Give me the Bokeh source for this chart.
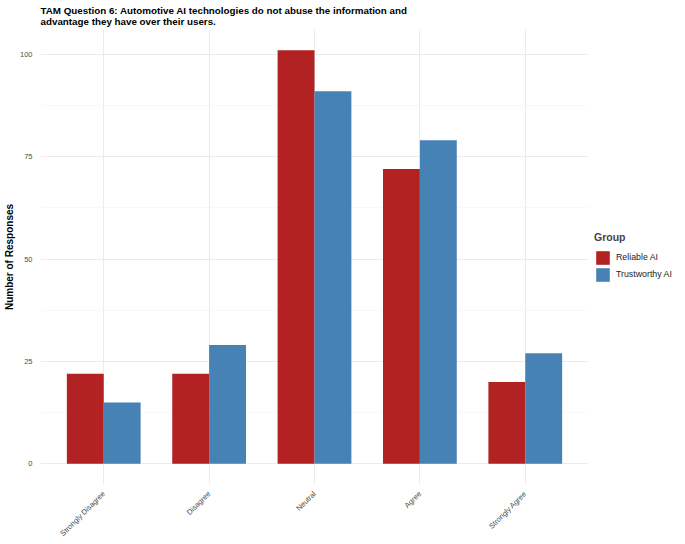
import numpy as np
from bokeh.plotting import figure
from bokeh.models import (Range1d, FixedTicker, SingleIntervalTicker, Legend,
                          LegendItem, ColumnDataSource)
from bokeh.transform import dodge
from bokeh.embed import file_html
from bokeh.resources import INLINE

categories = ["Strongly Disagree", "Disagree", "Neutral", "Agree", "Strongly Agree"]
reliable_ai = [22, 22, 101, 72, 20]
trustworthy_ai = [15, 29, 91, 79, 27]
groups = ["Reliable AI", "Trustworthy AI"]
colors = ["#B22222", "#4682B4"]
title_text = ("TAM Question 6: Automotive AI technologies do not abuse the information and\n"
              "advantage they have over their users.")

positions = list(range(1, len(categories) + 1))
src = ColumnDataSource(dict(pos=positions, reliable=reliable_ai, trust=trustworthy_ai))

ymax = max(max(reliable_ai), max(trustworthy_ai))
FONT = "Liberation Sans"

p = figure(frame_width=548, frame_height=455, output_backend="svg", toolbar_location=None,
           x_range=Range1d(0.4, len(categories) + 0.6),
           y_range=Range1d(-0.05 * ymax, 1.05 * ymax),
           background_fill_color="white", border_fill_color="white",
           min_border_left=0, min_border_right=0, min_border_top=0, min_border_bottom=0)
p.outline_line_color = None

bw = 0.35
r1 = p.vbar(x=dodge("pos", -bw / 2, range=p.x_range), top="reliable", width=bw,
            source=src, fill_color=colors[0], line_color=None)
r2 = p.vbar(x=dodge("pos", bw / 2, range=p.x_range), top="trust", width=bw,
            source=src, fill_color=colors[1], line_color=None)

# title
p.title.text = title_text
p.title.text_font = FONT
p.title.text_font_size = "9.8px"
p.title.text_font_style = "bold"
p.title.text_color = "black"
p.title.offset = 0
p.title.standoff = 5

# x axis
p.xaxis.ticker = FixedTicker(ticks=positions)
p.xaxis.major_label_overrides = {pos: c for pos, c in zip(positions, categories)}
p.xaxis.major_label_orientation = np.pi / 4
p.xaxis.major_label_text_font = FONT
p.xaxis.major_label_text_font_size = "7.5px"
p.xaxis.major_label_text_color = "#4D4D4D"
p.xaxis.axis_line_color = None
p.xaxis.major_tick_line_color = None
p.xaxis.minor_tick_line_color = None
p.xaxis.major_label_standoff = 2

# y axis
p.yaxis.ticker = SingleIntervalTicker(interval=25, num_minor_ticks=2)
p.yaxis.axis_label = "Number of Responses"
p.yaxis.axis_label_text_font = FONT
p.yaxis.axis_label_text_font_size = "10px"
p.yaxis.axis_label_text_font_style = "bold"
p.yaxis.axis_label_text_color = "black"
p.yaxis.axis_label_standoff = 2
p.yaxis.major_label_text_font = FONT
p.yaxis.major_label_text_font_size = "7.5px"
p.yaxis.major_label_text_color = "#4D4D4D"
p.yaxis.axis_line_color = None
p.yaxis.major_tick_line_color = None
p.yaxis.minor_tick_line_color = None
p.yaxis.major_label_standoff = 2

# grid
p.xgrid.grid_line_color = "#EBEBEB"
p.xgrid.grid_line_width = 1
p.ygrid.grid_line_color = "#EBEBEB"
p.ygrid.grid_line_width = 1
p.ygrid.minor_grid_line_color = "#F4F4F4"
p.ygrid.minor_grid_line_width = 0.6

legend = Legend(items=[LegendItem(label=groups[0], renderers=[r1]),
                       LegendItem(label=groups[1], renderers=[r2])],
                location="center_left")
legend.title = "Group"
legend.title_text_font = FONT
legend.title_text_font_size = "10.5px"
legend.title_text_font_style = "bold"
legend.title_standoff = 6
legend.label_text_font = FONT
legend.label_text_font_size = "8.8px"
legend.label_text_color = "#1A1A1A"
legend.glyph_width = 17
legend.glyph_height = 17
legend.label_height = 17
legend.spacing = 0
legend.label_standoff = 5
legend.padding = 2
legend.margin = 6
legend.border_line_color = None
legend.background_fill_alpha = 0
p.add_layout(legend, "right")

open("out.html", "w").write(file_html(p, INLINE))
